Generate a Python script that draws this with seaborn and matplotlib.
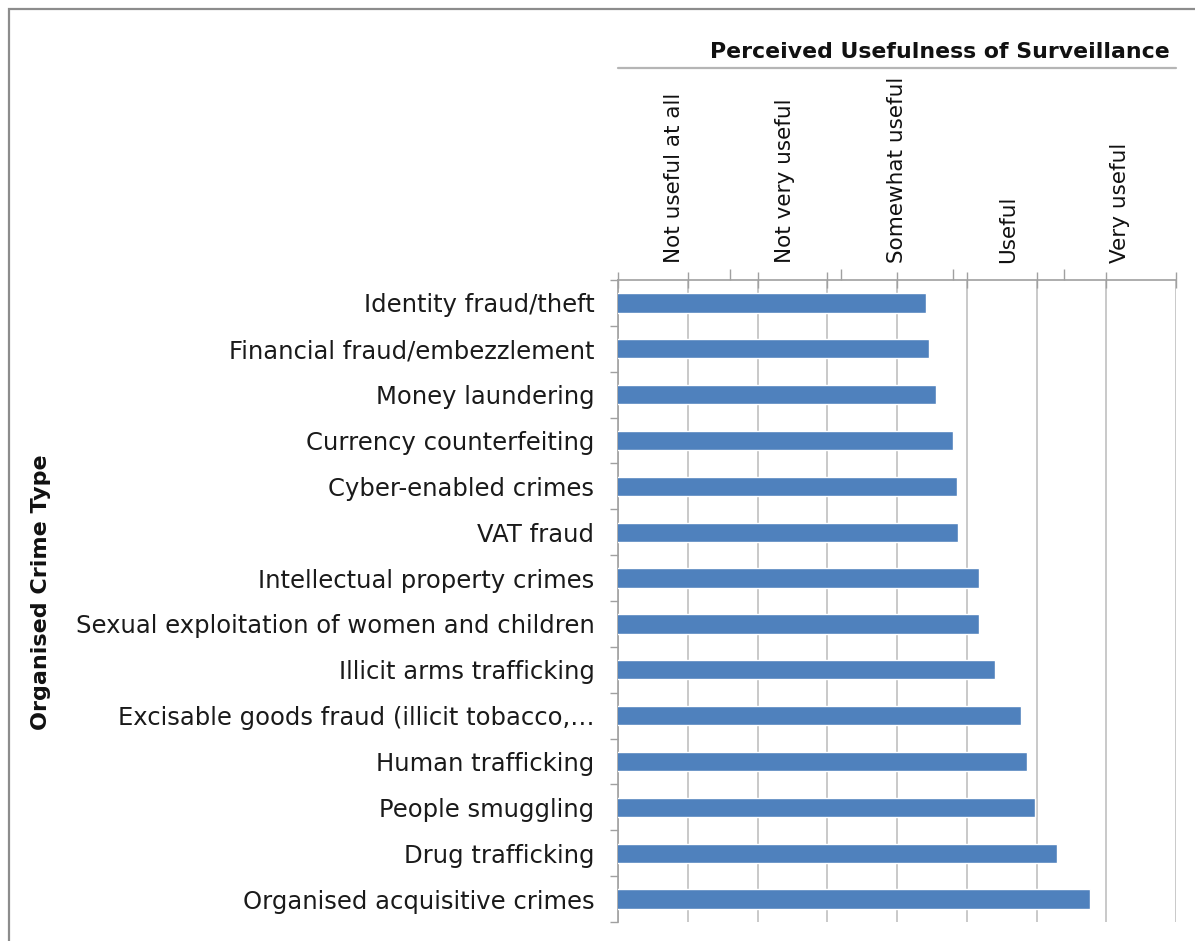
import matplotlib
matplotlib.use("Agg")
import matplotlib.pyplot as plt
import seaborn as sns
import pandas as pd
import numpy as np
from matplotlib.lines import Line2D
from matplotlib.patches import Rectangle
from matplotlib.ticker import FixedLocator, MultipleLocator

crime_types = [
    "Identity fraud/theft",
    "Financial fraud/embezzlement",
    "Money laundering",
    "Currency counterfeiting",
    "Cyber-enabled crimes",
    "VAT fraud",
    "Intellectual property crimes",
    "Sexual exploitation of women and children",
    "Illicit arms trafficking",
    "Excisable goods fraud (illicit tobacco,\u2026",
    "Human trafficking",
    "People smuggling",
    "Drug trafficking",
    "Organised acquisitive crimes",
]
usefulness = [3.21, 3.23, 3.28, 3.40, 3.43, 3.44, 3.59, 3.59, 3.70, 3.89, 3.93, 3.99, 4.15, 4.38]
scale_labels = ["Not useful at all", "Not very useful", "Somewhat useful", "Useful", "Very useful"]

df = pd.DataFrame({"crime": crime_types, "score": usefulness})

sns.set_theme(style="white")
plt.rcParams["font.family"] = ["DejaVu Sans"]

W, H = 1195, 941
fig = plt.figure(figsize=(W / 100, H / 100), dpi=100)
ax = fig.add_axes([618 / W, 19 / H, (1176 - 618) / W, (922 - 280) / H])

sns.barplot(data=df, x="score", y="crime", orient="h", color="#4F81BD",
            saturation=1, width=0.42, ax=ax, zorder=3)

ax.set_xlim(1, 5)
ax.set_ylim(len(crime_types) - 0.5, -0.5)

# secondary category axis on top (created first: twiny resets primary tick side)
ax2 = ax.twiny()
ax2.set_xlim(0, 5)
ax2.set_xticks(np.arange(0.5, 5, 1.0))
ax2.set_xticklabels(scale_labels, rotation=90, fontsize=15.5, color="#111111")
ax2.xaxis.set_minor_locator(FixedLocator([1, 2, 3, 4]))
ax2.tick_params(axis="x", which="major", length=0, pad=12)
ax2.tick_params(axis="x", which="minor", direction="out", length=8, width=1, color="#a0a0a0")
ax2.tick_params(axis="x", which="both", bottom=False, labelbottom=False)
for s in ax2.spines.values():
    s.set_visible(False)
ax2.grid(False)

# vertical gridlines
ax.xaxis.set_major_locator(MultipleLocator(0.5))
ax.grid(axis="x", color="#c0c0c0", linewidth=1.2, zorder=0)
ax.grid(axis="y", visible=False)

# top ticks of primary axis (crossing the top axis line)
ax.xaxis.set_ticks_position("top")
ax.tick_params(axis="x", which="both", bottom=False, labelbottom=False, labeltop=False)
ax.tick_params(axis="x", which="major", direction="inout", length=11, width=1,
               color="#a0a0a0", top=True)

# y ticks at category boundaries
ax.yaxis.set_minor_locator(FixedLocator(np.arange(-0.5, len(crime_types), 1.0)))
ax.tick_params(axis="y", which="major", length=0, pad=17, labelsize=17.5, labelcolor="#1a1a1a")
ax.tick_params(axis="y", which="minor", direction="out", length=6, width=1, color="#a0a0a0", left=True)

for s in ["bottom", "right"]:
    ax.spines[s].set_visible(False)
for s in ["top", "left"]:
    ax.spines[s].set_color("#a0a0a0")
    ax.spines[s].set_linewidth(1.2)

ax.set_xlabel("")
ax.set_ylabel("Organised Crime Type", fontsize=16, fontweight="bold", color="#111111")
ax.yaxis.set_label_coords((51 - 618) / 558, 0.5 + (601 - 592) / 642)

# title and rule line
fig.text(1170 / W, 1 - 52 / H, "Perceived Usefulness of Surveillance", ha="right", va="center",
         fontsize=15.8, fontweight="bold", color="#111111")
fig.add_artist(Line2D([618 / W, 1176 / W], [1 - 68 / H, 1 - 68 / H], color="#b5b5b5", linewidth=1.6))

# outer border (top and left visible)
fig.add_artist(Rectangle((9 / W, -0.1), 1.2, 1 - 9 / H + 0.1, transform=fig.transFigure,
                         fill=False, edgecolor="#8c8c8c", linewidth=1.6))

fig.savefig("out.png", dpi=100)
